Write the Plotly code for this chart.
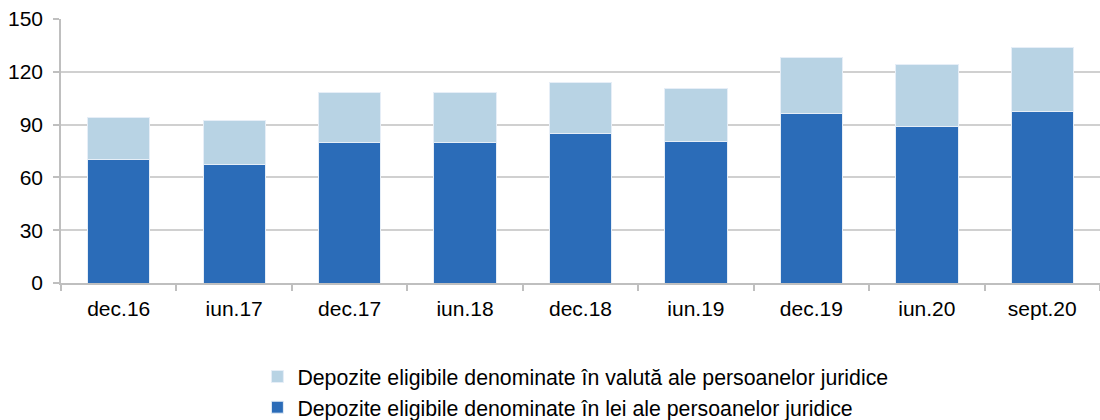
import plotly.graph_objects as go

# Quarterly reporting dates
categories = ["dec.16", "iun.17", "dec.17", "iun.18", "dec.18",
              "iun.19", "dec.19", "iun.20", "sept.20"]

# Eligible deposits of legal entities (stacked)
lei_values = [70.4, 67.6, 80.1, 80.1, 84.9, 80.5, 96.1, 89.2, 97.2]
valuta_values = [23.4, 24.9, 27.9, 28.1, 29.0, 29.8, 31.9, 34.8, 36.5]

y_ticks = [0, 30, 60, 90, 120, 150]

name_lei = "Depozite eligibile denominate în lei ale persoanelor juridice"
name_valuta = "Depozite eligibile denominate în valută ale persoanelor juridice"

font_family = "Liberation Sans, Arial, sans-serif"
axis_grey = "#BFBFBF"

fig = go.Figure()
fig.add_trace(go.Bar(
    x=categories, y=lei_values, name=name_lei,
    marker=dict(color="#2B6CB8", line=dict(color="#E6EEF7", width=1)),
))
fig.add_trace(go.Bar(
    x=categories, y=valuta_values, name=name_valuta,
    marker=dict(color="#B8D3E4", line=dict(color="#E6EEF7", width=1)),
))

fig.update_layout(
    width=1100, height=420,
    barmode="stack", bargap=0.46,
    plot_bgcolor="white", paper_bgcolor="white",
    margin=dict(l=61, r=0, t=19, b=137, autoexpand=False),
    font=dict(family=font_family, size=21, color="#000000"),
    showlegend=True,
    legend=dict(
        orientation="v", traceorder="reversed",
        xref="container", yref="container",
        x=0.234, y=0.152, xanchor="left", yanchor="top",
        font=dict(size=21.3, family=font_family),
        itemwidth=30, tracegroupgap=0,
        bgcolor="rgba(0,0,0,0)",
    ),
    xaxis=dict(
        showline=True, linecolor=axis_grey, linewidth=1.5,
        ticks="outside", tickson="boundaries", ticklen=6,
        tickcolor=axis_grey, tickwidth=1.5, tickangle=0,
        tickfont=dict(size=21), showgrid=False,
        ticklabelstandoff=6, automargin=False,
    ),
    yaxis=dict(
        range=[0, 150], tickvals=y_ticks,
        showline=True, linecolor=axis_grey, linewidth=1.5,
        ticks="outside", ticklen=6, tickcolor=axis_grey, tickwidth=1.5,
        showgrid=True, gridcolor="#D0D0D0", gridwidth=1.5,
        zeroline=False, tickfont=dict(size=21),
        ticklabelstandoff=6, automargin=False,
    ),
)

fig.write_html("out.html")
